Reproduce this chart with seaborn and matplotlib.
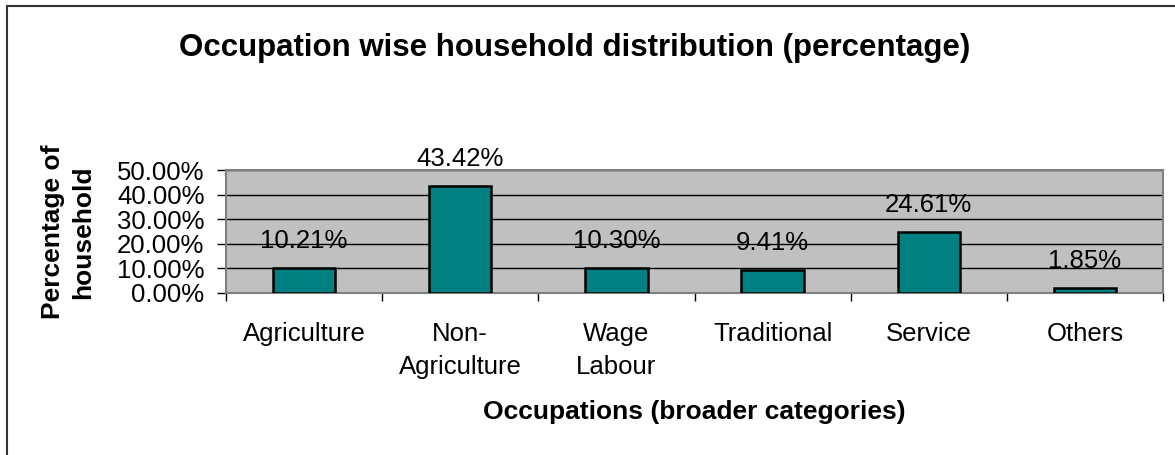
import matplotlib
matplotlib.use("Agg")
import matplotlib.pyplot as plt
from matplotlib.lines import Line2D
import seaborn as sns
import pandas as pd
import numpy as np

categories = ["Agriculture", "Non-\nAgriculture", "Wage\nLabour", "Traditional", "Service", "Others"]
values = [10.21, 43.42, 10.30, 9.41, 24.61, 1.85]
value_labels = ["10.21%", "43.42%", "10.30%", "9.41%", "24.61%", "1.85%"]
yticks = [0, 10, 20, 30, 40, 50]
ytick_labels = ["0.00%", "10.00%", "20.00%", "30.00%", "40.00%", "50.00%"]

sns.set_theme(style="white")
plt.rcParams['font.family'] = ['Liberation Sans', 'DejaVu Sans']
plt.rcParams['text.color'] = 'black'
plt.rcParams['axes.labelcolor'] = 'black'
plt.rcParams['xtick.color'] = 'black'
plt.rcParams['ytick.color'] = 'black'

FS = 18.5
W, H = 1175, 455
fig = plt.figure(figsize=(W / 100, H / 100), dpi=100)
ax = fig.add_axes([226 / W, 1 - 293 / H, (1163 - 226) / W, (293 - 170) / H])

df = pd.DataFrame({"cat": categories, "val": values})
sns.barplot(data=df, x="cat", y="val", color="#008080", edgecolor="black",
            linewidth=1.8, width=0.4, saturation=1, ax=ax, zorder=3)

ax.set_facecolor("#C0C0C0")
ax.set_ylim(0, 50)
ax.set_xlim(-0.5, len(categories) - 0.5)
ax.set_yticks(yticks)
ax.set_yticklabels(ytick_labels, fontsize=FS)
ax.yaxis.grid(True, color="black", linewidth=1.0, zorder=0)
ax.set_axisbelow(True)

ax.set_xticks(range(len(categories)))
ax.set_xticklabels(categories, fontsize=FS, linespacing=1.45)
ax.tick_params(axis="x", which="major", length=0, pad=21)
ax.set_xticks(np.arange(-0.5, len(categories), 1.0), minor=True)
ax.tick_params(axis="x", which="minor", length=6, width=1, color="black", direction="out", bottom=True)
ax.tick_params(axis="y", length=6.5, width=1, color="black", direction="out", left=True, pad=9)

for side in ["top", "right", "left", "bottom"]:
    ax.spines[side].set_color("#808080")
    ax.spines[side].set_linewidth(1.5)

for i, (v, lab) in enumerate(zip(values, value_labels)):
    ax.annotate(lab, xy=(i, v), xytext=(0, 19.5), textcoords="offset points",
                ha="center", va="center", fontsize=FS, color="black", zorder=5,
                annotation_clip=False)

ax.set_xlabel("")
ax.set_ylabel("")
fig.text(694.5 / W, 1 - 412 / H, "Occupations (broader categories)",
         ha="center", va="center", fontsize=19, fontweight="bold")
fig.text(68 / W, 1 - 232 / H, "Percentage of\nhousehold", rotation=90,
         ha="center", va="center", fontsize=19, fontweight="bold", linespacing=1.35)

fig.text(575 / W, 1 - 48 / H, "Occupation wise household distribution (percentage)",
         ha="center", va="center", fontsize=22.5, fontweight="bold")

# outer chart border (top and left visible)
fig.add_artist(Line2D([6.5 / W, 1.0], [1 - 6 / H, 1 - 6 / H], transform=fig.transFigure,
                      color="#333333", linewidth=1.5))
fig.add_artist(Line2D([6.5 / W, 6.5 / W], [1 - 6 / H, 0.0], transform=fig.transFigure,
                      color="#333333", linewidth=1.5))

fig.savefig("out.png", dpi=100, facecolor="white")
